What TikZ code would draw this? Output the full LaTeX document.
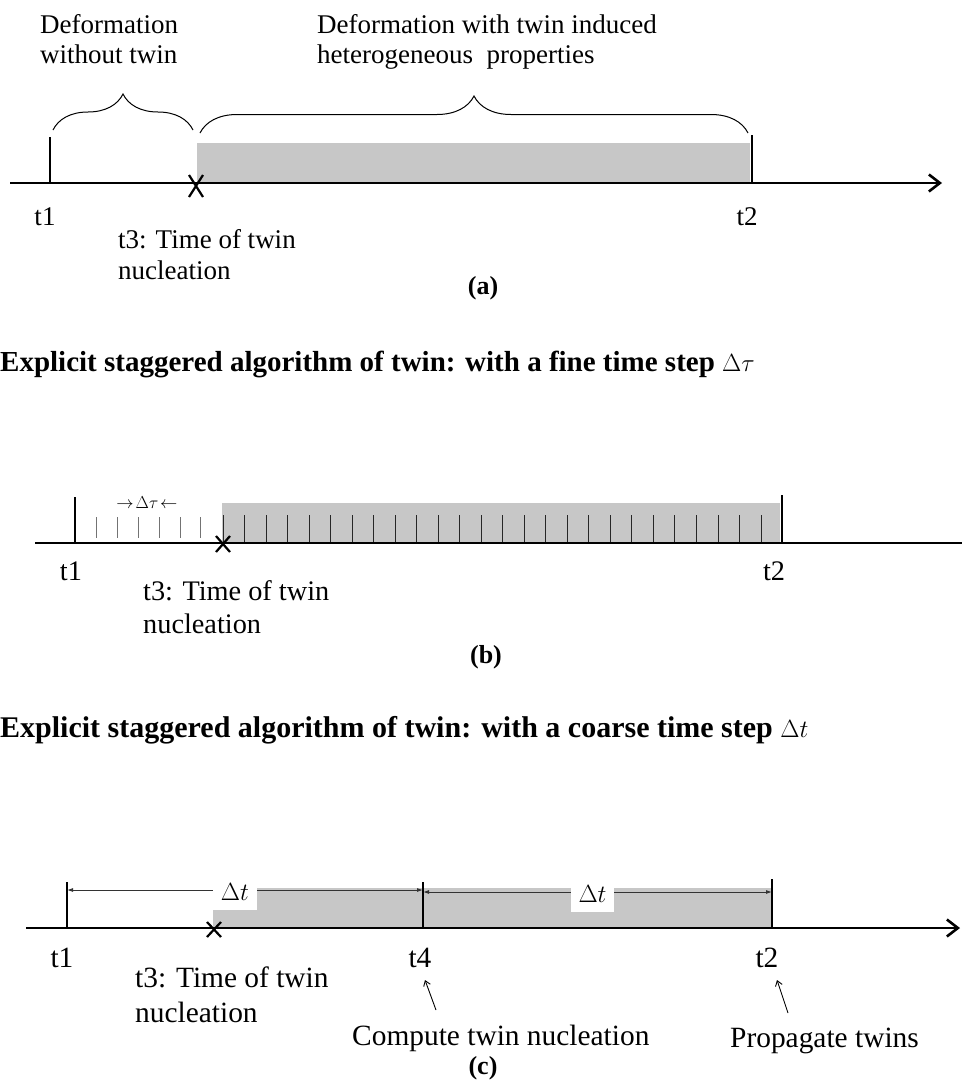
\documentclass[tikz,border=0pt]{standalone}
\usepackage{fontspec}
\setmainfont{Liberation Serif}
\usetikzlibrary{arrows.meta,decorations.pathreplacing}

\begin{document}
\begin{tikzpicture}[x=1pt,y=-1pt,
  axisline/.style={line width=2.6pt,-{Straight Barb[length=11pt,width=17pt,line width=2.6pt]}},
  tickmark/.style={line width=2.6pt},
  finetick/.style={line width=0.9pt,black!55},
  innertick/.style={line width=0.9pt,black!85},
  crossmark/.style={line width=2.2pt},
  twinzone/.style={fill=black!22},
  bracemark/.style={line width=1pt,decorate,decoration={brace,amplitude=#1}},
  dimline/.style={line width=0.9pt,black!80,{Latex[length=6pt,width=4pt]}-{Latex[length=6pt,width=4pt]}},
  pointer/.style={line width=0.9pt,-{Straight Barb[length=5pt,width=7pt]}},
  lblA/.style={inner sep=0,font=\fontsize{27}{30}\selectfont},
  lblB/.style={inner sep=0,font=\fontsize{28.3}{33}\selectfont},
  lblC/.style={inner sep=0,font=\fontsize{29.4}{35}\selectfont},
  caption/.style={inner sep=0,font=\bfseries\fontsize{26}{30}\selectfont},
  heading/.style={inner sep=0,anchor=base west,font=\bfseries\fontsize{29}{34}\selectfont},
  gapbox/.style={fill=white,inner sep=0,minimum height=36pt,font=\fontsize{27}{30}\selectfont}]

\useasboundingbox (0,0) rectangle (961,1084);

% ---------------- (a) ----------------
\coordinate (a1) at (50,183);
\coordinate (a3) at (196,183);
\coordinate (a2) at (752,183);
\fill[twinzone] (197,143) rectangle (750,183);
\draw[axisline] (10,183) -- (942,183);
\draw[tickmark] (a1) -- ++(0,-46);
\draw[tickmark] (a2) -- ++(0,-48);
\draw[crossmark] ([shift={(-7,-8)}]a3) -- ([shift={(7,14)}]a3)
                 ([shift={(-7,14)}]a3) -- ([shift={(7,-8)}]a3);
\draw[bracemark=36] (53,130) -- (193,130);
\draw[bracemark=37] (200,133) -- (748,133);
% multi-line labels are anchored on the baseline of their last line
\node[lblA,anchor=base west,align=left] (noTwin) at (40,63) {Deformation\\without twin};
\node[lblA,anchor=base west,align=left] (withTwin) at (317,63) {Deformation with twin induced\\heterogeneous\ \ properties};
\node[lblA,anchor=base] (a1lbl) at (45,225) {t1};
\node[lblA,anchor=base] (a2lbl) at (747,225) {t2};
\node[lblA,anchor=base west,align=left,font=\fontsize{27}{31}\selectfont] (a3lbl) at (118,279) {t3: Time of twin\\nucleation};
\node[caption,anchor=base] (capA) at (483,294) {(a)};

% ---------------- (b) ----------------
\node[heading] (headB) at (0,371) {Explicit staggered algorithm of twin: with a fine time step $\Delta\tau$};
\coordinate (b1) at (75,543);
\coordinate (b3) at (223,543);
\coordinate (b2) at (782,543);
\fill[twinzone] (222,503) rectangle (780,543);
\foreach \x in {96,117,138,159,180,200}
  \draw[finetick] (\x,517) -- (\x,538);
\foreach \i in {0,...,25}
  \draw[innertick] (223+\i*21.52,515) -- (223+\i*21.52,542);
\draw[axisline] (35,543) -- (978,543);
\draw[tickmark] (b1) -- ++(0,-46);
\draw[tickmark] (b2) -- ++(0,-48);
\draw[crossmark] ([shift={(-7,-7)}]b3) -- ([shift={(7,9)}]b3)
                 ([shift={(-7,9)}]b3) -- ([shift={(7,-7)}]b3);
\node[inner sep=0,font=\fontsize{18}{20}\selectfont] (fineStep) at (147,503) {$\rightarrow\!\Delta\tau\!\leftarrow$};
\node[lblB,anchor=base] (b1lbl) at (71,580) {t1};
\node[lblB,anchor=base] (b2lbl) at (774,580) {t2};
\node[lblB,anchor=base west,align=left] (b3lbl) at (143,633) {t3: Time of twin\\nucleation};
\node[caption,anchor=base] (capB) at (486,663) {(b)};

% ---------------- (c) ----------------
\node[heading,font=\bfseries\fontsize{30}{34}\selectfont] (headC) at (0,737) {Explicit staggered algorithm of twin: with a coarse time step $\Delta t$};
\coordinate (c1) at (67,928);
\coordinate (c3) at (214,928);
\coordinate (c4) at (423,928);
\coordinate (c2) at (772,928);
\fill[twinzone] (213,888) rectangle (772,928);
\draw[axisline] (26,928) -- (960,928);
\draw[tickmark] (c1) -- ++(0,-46);
\draw[tickmark] (c4) -- ++(0,-46);
\draw[tickmark] (c2) -- ++(0,-49);
\draw[crossmark] ([shift={(-7,-6)}]c3) -- ([shift={(7,9)}]c3)
                 ([shift={(-7,9)}]c3) -- ([shift={(7,-6)}]c3);
\coordinate (d1s) at (67,890);
\coordinate (d1e) at (423,890);
\coordinate (d2s) at (423,892);
\coordinate (d2e) at (772,892);
\draw[dimline] (d1s) -- (d1e);
\draw[dimline] (d2s) -- (d2e);
\node[gapbox,minimum width=44pt] (coarse1) at (235,892) {$\Delta t$};
\node[gapbox,minimum width=43pt] (coarse2) at (592.5,894) {$\Delta t$};
\node[lblC,anchor=base] (c1lbl) at (62,967) {t1};
\node[lblC,anchor=base] (c4lbl) at (420,967) {t4};
\node[lblC,anchor=base] (c2lbl) at (767,967) {t2};
\node[lblC,anchor=base west,align=left] (c3lbl) at (135,1022) {t3: Time of twin\\nucleation};
\node[lblC,anchor=base west] (compute) at (352,1045) {Compute twin nucleation};
\node[lblC,anchor=base west] (propagate) at (730,1047) {Propagate twins};
\coordinate (p4) at (436,1010);
\coordinate (p4tip) at (425,980);
\coordinate (p2) at (788,1013);
\coordinate (p2tip) at (777,980);
\draw[pointer] (p4) -- (p4tip);
\draw[pointer] (p2) -- (p2tip);
\node[caption,anchor=base] (capC) at (483,1074) {(c)};
\end{tikzpicture}
\end{document}
